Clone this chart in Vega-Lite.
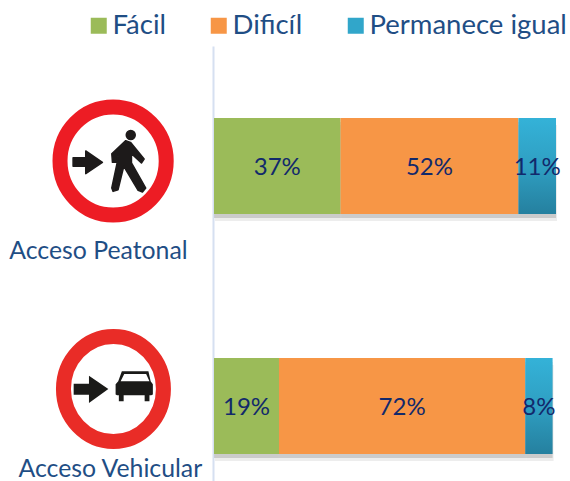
{"$schema":"https://vega.github.io/schema/vega-lite/v6.json","width":570,"height":481,"padding":0,"autosize":{"type":"none"},"background":"white","config":{"view":{"stroke":null},"font":"Lato"},
"datasets":{"bars":[
{"cat":"Acceso Peatonal","serie":"Fácil","o":1,"share":37,"label":"37%"},
{"cat":"Acceso Peatonal","serie":"Dificíl","o":2,"share":52,"label":"52%"},
{"cat":"Acceso Peatonal","serie":"Permanece igual","o":3,"share":11,"label":"11%"},
{"cat":"Acceso Vehicular","serie":"Fácil","o":1,"share":19,"label":"19%"},
{"cat":"Acceso Vehicular","serie":"Dificíl","o":2,"share":72,"label":"72%"},
{"cat":"Acceso Vehicular","serie":"Permanece igual","o":3,"share":8,"label":"8%"}]},
"data":{"name":"bars"},
"encoding":{
"y":{"field":"cat","type":"nominal","title":null,"scale":{"domain":["Acceso Peatonal","Acceso Vehicular"],"range":[46,526],"paddingInner":0.6,"paddingOuter":0.3},"axis":{"offset":-213,"labels":false,"ticks":false,"domain":true,"domainColor":"#d6e0f1","domainWidth":2,"grid":false,"title":null}}
},
"layer":[
{"mark":{"type":"bar","fill":"#000","opacity":0.07,"yOffset":7,"xOffset":1,"x2Offset":3},"encoding":{"x":{"field":"share","type":"quantitative","stack":"zero","axis":null,"scale":{"domain":[-62.57,104.09],"nice":false,"zero":false}},"order":{"field":"o"}}},
{"mark":{"type":"bar","fill":"#000","opacity":0.14,"yOffset":4,"xOffset":0,"x2Offset":2},"encoding":{"x":{"field":"share","type":"quantitative","stack":"zero"},"order":{"field":"o"}}},
{"mark":{"type":"bar"},"encoding":{"x":{"field":"share","type":"quantitative","stack":"zero"},"order":{"field":"o"},
"color":{"condition":{"test":"datum.serie==='Permanece igual'","value":{"gradient":"linear","x1":0,"y1":0,"x2":0,"y2":1,"stops":[{"offset":0,"color":"#34b2d8"},{"offset":0.5,"color":"#2f9fc2"},{"offset":1,"color":"#25809f"}]}},"field":"serie","type":"nominal","title":null,"scale":{"domain":["Fácil","Dificíl","Permanece igual"],"range":["#9bbb59","#f79646","#31a6ca"]},
"legend":{"orient":"none","legendX":85,"legendY":12,"direction":"horizontal","columns":3,"symbolType":"square","symbolSize":256,"symbolStrokeWidth":0,"symbolOpacity":1,"labelFontSize":27.5,"labelFont":"Lato","labelColor":"#1f4e85","labelOffset":0,"columnPadding":39,"labelLimit":300,"gridAlign":"none","padding":0,
"encode":{"symbols":{"update":{"fill":[{"test":"datum.value==='Permanece igual'","value":{"gradient":"linear","x1":0,"y1":0,"x2":0,"y2":1,"stops":[{"offset":0,"color":"#34b2d8"},{"offset":1,"color":"#25809f"}]}},{"scale":"color","field":"value"}]}}}}}}},
{"mark":{"type":"text","fontSize":24,"font":"Lato","color":"#12296b","align":"center","baseline":"middle","dy":2},"encoding":{"x":{"field":"share","type":"quantitative","stack":"zero","bandPosition":0.5},"order":{"field":"o"},"text":{"field":"label"}}},
{"data":{"values":[{"cat":"Acceso Peatonal","x":-29.5}]},"layer":[
{"mark":{"type":"point","filled":false,"fill":"white","opacity":1,"stroke":"#ed1c24","strokeWidth":15,"yOffset":-5,"shape":"M-0.885,0A0.885,0.9 0 1,1 0.885,0A0.885,0.9 0 1,1 -0.885,0Z","size":14400}},
{"mark":{"type":"point","filled":true,"opacity":1,"color":"#1d1a1a","stroke":"#1d1a1a","strokeWidth":1.5,"strokeJoin":"round","yOffset":-5,"size":14400,"shape":"M.211,-.339L.289,-.311L.517,-.033L.472,.033L.306,-.122L.306,.033L.544,.45L.489,.517L.417,.489L.178,.089L.083,.478L0,.506L-.022,.45L.067,.033L.09,-.12L.056,.022L-.011,.022L-.022,-.122ZM.219,-.433A.075,.075 0 1,1 .369,-.433A.075,.075 0 1,1 .219,-.433ZM-.667,-.056L-.456,-.056L-.456,-.167L-.178,.022L-.456,.211L-.456,.089L-.667,.089Z"}}
],"encoding":{"x":{"field":"x","type":"quantitative"},"y":{"field":"cat","type":"nominal"}}},
{"data":{"values":[{"cat":"Acceso Vehicular","x":-29.4}]},"layer":[
{"mark":{"type":"point","filled":false,"fill":"white","opacity":1,"stroke":"#e92c27","strokeWidth":15,"yOffset":-17,"shape":"M-0.833,0A0.833,0.875 0 1,1 0.833,0A0.833,0.875 0 1,1 -0.833,0Z","size":14400}},
{"mark":{"type":"point","filled":true,"opacity":1,"color":"#1a1a18","yOffset":-17,"size":14400,"shape":"M-.663,-.089L-.408,-.089L-.408,-.222L-.085,0L-.408,.233L-.408,.094L-.663,.094ZM.14,-.294L.583,-.294L.62,-.13L.657,-.08L.657,.09L.63,.106L.6,.106L.6,.206L.52,.206L.52,.106L.17,.106L.17,.206L.09,.206L.09,.106L.06,.106L.036,.09L.036,-.08L.08,-.13ZM.18,-.25L.12,-.13L.6,-.13L.545,-.25Z"}}
],"encoding":{"x":{"field":"x","type":"quantitative"},"y":{"field":"cat","type":"nominal"}}},
{"data":{"values":[{"cat":"Acceso Peatonal","x":-33.8,"t":"Acceso Peatonal"}]},"mark":{"type":"text","fontSize":24.8,"font":"Lato","color":"#1f4e85","align":"center","baseline":"middle","dy":86},"encoding":{"x":{"field":"x","type":"quantitative"},"y":{"field":"cat","type":"nominal"},"text":{"field":"t"}}},
{"data":{"values":[{"cat":"Acceso Vehicular","x":-30.3,"t":"Acceso Vehicular"}]},"mark":{"type":"text","fontSize":24.8,"font":"Lato","color":"#1f4e85","align":"center","baseline":"middle","dy":64},"encoding":{"x":{"field":"x","type":"quantitative"},"y":{"field":"cat","type":"nominal"},"text":{"field":"t"}}}
]}
